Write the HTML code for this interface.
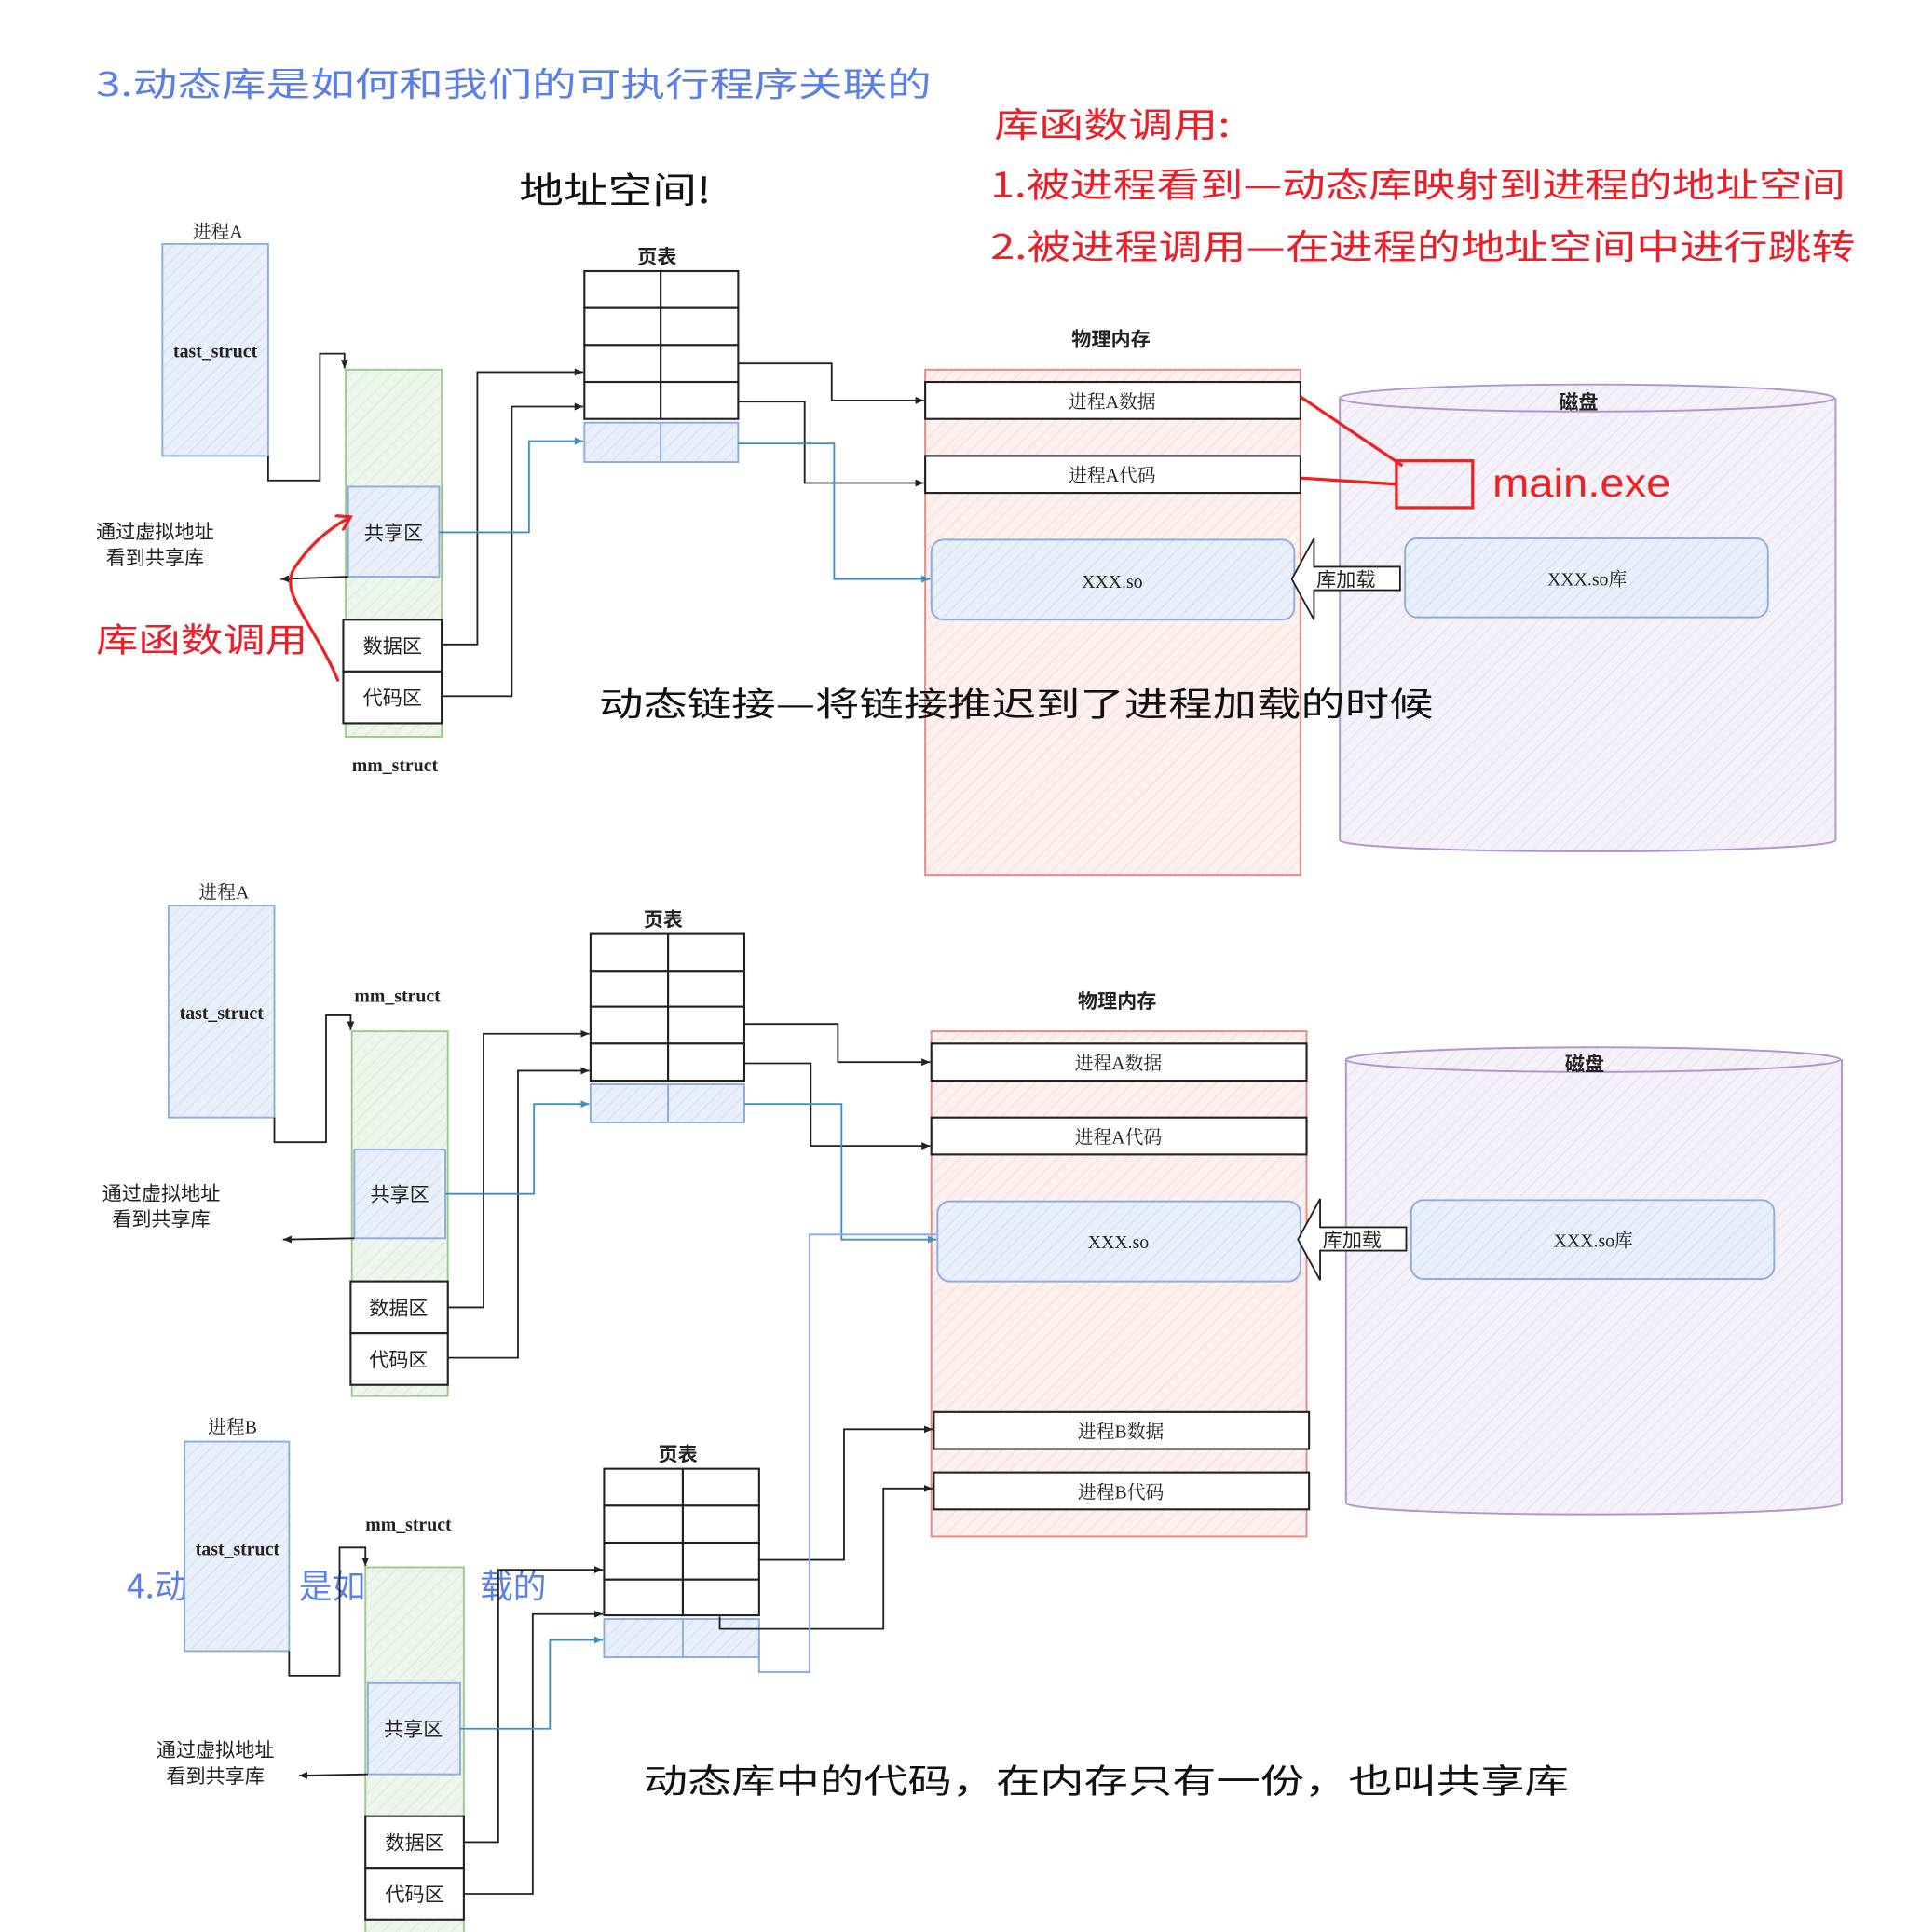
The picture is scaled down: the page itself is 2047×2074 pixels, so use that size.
<!DOCTYPE html>
<html><head><meta charset="utf-8"><style>
html,body{margin:0;padding:0;background:#fff;}
svg{display:block;}
text{font-family:"Liberation Sans","Noto Sans CJK SC",sans-serif;}
.lb{font-size:16px;fill:#222;text-anchor:middle;}
.sf{font-family:"Liberation Serif","Noto Serif CJK SC",serif;font-size:15px;fill:#222;text-anchor:middle;}
.bd{font-size:16px;font-weight:bold;fill:#222;text-anchor:middle;}
.hw{font-family:"Noto Sans CJK SC",sans-serif;}
.ln{fill:none;stroke:#222;stroke-width:1.4;}
.bl{fill:none;stroke:#3f8fc0;stroke-width:1.4;}
.cell{fill:#fff;stroke:#222;stroke-width:1.6;}
</style></head><body>
<svg width="2047" height="2074" viewBox="0 0 1550 1568" preserveAspectRatio="none" xmlns="http://www.w3.org/2000/svg">
<defs>
<pattern id="hb" width="8" height="8" patternUnits="userSpaceOnUse" patternTransform="rotate(45)"><rect width="8" height="8" fill="#e9f0fb"/><line x1="0" y1="0" x2="0" y2="8" stroke="#c9d8f0" stroke-width="1.2"/></pattern>
<pattern id="hg" width="8" height="8" patternUnits="userSpaceOnUse" patternTransform="rotate(45)"><rect width="8" height="8" fill="#eef5ec"/><line x1="0" y1="0" x2="0" y2="8" stroke="#d6e8d2" stroke-width="1.2"/></pattern>
<pattern id="hr" width="8" height="8" patternUnits="userSpaceOnUse" patternTransform="rotate(45)"><rect width="8" height="8" fill="#fdf0ef"/><line x1="0" y1="0" x2="0" y2="8" stroke="#f6d2cf" stroke-width="1.2"/></pattern>
<pattern id="hp" width="8" height="8" patternUnits="userSpaceOnUse" patternTransform="rotate(45)"><rect width="8" height="8" fill="#f5f1f9"/><line x1="0" y1="0" x2="0" y2="8" stroke="#e3dbee" stroke-width="1.2"/></pattern>
<marker id="ar" markerWidth="8" markerHeight="8" refX="7" refY="4" orient="auto" markerUnits="userSpaceOnUse"><path d="M0,1 L7,4 L0,7 z" fill="#222"/></marker>
<marker id="ab" markerWidth="8" markerHeight="8" refX="7" refY="4" orient="auto" markerUnits="userSpaceOnUse"><path d="M0,1 L7,4 L0,7 z" fill="#3f8fc0"/></marker>
<marker id="rr" markerWidth="14" markerHeight="14" refX="10" refY="7" orient="auto" markerUnits="userSpaceOnUse"><path d="M0,0 L11,7 L0,14" fill="none" stroke="#e22" stroke-width="2.5"/></marker>
</defs>

<text class="hw" x="78" y="78" font-size="27" fill="#5b7fe8" textLength="679" lengthAdjust="spacingAndGlyphs">3.动态库是如何和我们的可执行程序关联的</text>
<text class="hw" x="422" y="165" font-size="29" fill="#111" textLength="156" lengthAdjust="spacingAndGlyphs">地址空间!</text>
<text class="hw" x="808" y="111" font-size="28" fill="#e8202a" textLength="192" lengthAdjust="spacingAndGlyphs">库函数调用:</text>
<text class="hw" x="805" y="160" font-size="28" fill="#e8202a" textLength="695" lengthAdjust="spacingAndGlyphs">1.被进程看到—动态库映射到进程的地址空间</text>
<text class="hw" x="805" y="210" font-size="28" fill="#e8202a" textLength="703" lengthAdjust="spacingAndGlyphs">2.被进程调用—在进程的地址空间中进行跳转</text>
<text class="hw" x="78" y="529" font-size="27" fill="#e8202a" textLength="172" lengthAdjust="spacingAndGlyphs">库函数调用</text>
<text class="hw" x="523" y="1455" font-size="27" fill="#111" textLength="752" lengthAdjust="spacingAndGlyphs">动态库中的代码，在内存只有一份，也叫共享库</text>
<text class="hw" x="103" y="1297" font-size="27" fill="#5b7fe8">4.动</text>
<text class="hw" x="243" y="1297" font-size="27" fill="#5b7fe8">是如</text>
<text class="hw" x="390" y="1297" font-size="27" fill="#5b7fe8">载的</text>

<!-- SECTION 1 -->
<text class="sf" x="177" y="193">进程A</text>
<rect x="132" y="198" width="86" height="172" fill="url(#hb)" stroke="#8eaee0" stroke-width="1.5"/>
<text class="sf" x="175" y="290" font-weight="bold">tast_struct</text>
<polyline class="ln" points="218,370 218,390 260,390 260,287 280,287 280,299" marker-end="url(#ar)"/>
<rect x="281" y="300" width="78" height="298" fill="url(#hg)" stroke="#9ccc8e" stroke-width="1.5"/>
<rect x="283" y="395" width="74" height="73" fill="url(#hb)" stroke="#8eaee0" stroke-width="1.5"/>
<text class="lb" x="320" y="438">共享区</text>
<rect x="279" y="503" width="80" height="42" class="cell"/>
<text class="lb" x="319" y="530">数据区</text>
<rect x="279" y="545" width="80" height="42" class="cell"/>
<text class="lb" x="319" y="572">代码区</text>
<text class="sf" x="321" y="626" font-weight="bold">mm_struct</text>
<text class="lb" x="126" y="437">通过虚拟地址</text>
<text class="lb" x="126" y="458">看到共享库</text>
<line class="ln" x1="283" y1="468" x2="228" y2="470" marker-end="url(#ar)"/>
<path d="M275,553 C255,505 225,480 240,460 C250,445 265,430 284,420" fill="none" stroke="#e22" stroke-width="2.5" marker-end="url(#rr)"/>

<text class="bd" x="534" y="214">页表</text>
<g>
<rect x="475" y="220" width="62" height="30" class="cell"/><rect x="537" y="220" width="63" height="30" class="cell"/>
<rect x="475" y="250" width="62" height="30" class="cell"/><rect x="537" y="250" width="63" height="30" class="cell"/>
<rect x="475" y="280" width="62" height="30" class="cell"/><rect x="537" y="280" width="63" height="30" class="cell"/>
<rect x="475" y="310" width="62" height="30" class="cell"/><rect x="537" y="310" width="63" height="30" class="cell"/>
<rect x="475" y="343" width="62" height="32" fill="url(#hb)" stroke="#8eaee0" stroke-width="1.5"/><rect x="537" y="343" width="63" height="32" fill="url(#hb)" stroke="#8eaee0" stroke-width="1.5"/>
</g>
<polyline class="ln" points="359,523 388,523 388,302 474,302" marker-end="url(#ar)"/>
<polyline class="ln" points="359,565 416,565 416,330 474,330" marker-end="url(#ar)"/>
<polyline class="bl" points="357,432 430,432 430,358 474,358" marker-end="url(#ab)"/>

<text class="bd" x="903" y="281">物理内存</text>
<rect x="752" y="300" width="305" height="410" fill="url(#hr)" stroke="#e88a86" stroke-width="1.5"/>
<rect x="752" y="310" width="305" height="30" class="cell"/>
<text class="sf" x="904" y="331" font-size="16">进程A数据</text>
<rect x="752" y="370" width="305" height="30" class="cell"/>
<text class="sf" x="904" y="391" font-size="16">进程A代码</text>
<rect x="757" y="438" width="295" height="65" rx="10" fill="url(#hb)" stroke="#8eaee0" stroke-width="1.5"/>
<text class="sf" x="904" y="477">XXX.so</text>
<polyline class="ln" points="600,295 676,295 676,325 751,325" marker-end="url(#ar)"/>
<polyline class="ln" points="600,326 654,326 654,392 751,392" marker-end="url(#ar)"/>
<polyline class="bl" points="600,360 678,360 678,470 756,470" marker-end="url(#ab)"/>

<path d="M1089,323 L1089,682 A201,9 0 0 0 1492,682 L1492,323" fill="url(#hp)" stroke="#b494cc" stroke-width="1.5"/>
<ellipse cx="1290" cy="323" rx="201" ry="11" fill="url(#hp)" stroke="#b494cc" stroke-width="1.5"/>
<text class="bd" x="1283" y="332">磁盘</text>
<rect x="1142" y="437" width="295" height="64" rx="10" fill="url(#hb)" stroke="#8eaee0" stroke-width="1.5"/>
<text class="sf" x="1290" y="475">XXX.so库</text>
<path d="M1138,460 L1068,460 L1068,437 L1050,470 L1068,503 L1068,479 L1138,479 z" fill="#fff" stroke="#222" stroke-width="1.4"/>
<text class="lb" x="1094" y="476">库加载</text>
<rect x="1135" y="374" width="62" height="38" fill="none" stroke="#e22" stroke-width="2.5"/>
<text x="1213" y="403" font-size="32" fill="#e22" textLength="145" lengthAdjust="spacingAndGlyphs">main.exe</text>
<line x1="1057" y1="322" x2="1140" y2="378" stroke="#e22" stroke-width="2.5"/>
<line x1="1057" y1="388" x2="1135" y2="393" stroke="#e22" stroke-width="2.5"/>
<text class="hw" x="487" y="581" font-size="27" fill="#111" textLength="678" lengthAdjust="spacingAndGlyphs">动态链接—将链接推迟到了进程加载的时候</text>

<!-- SECTION 2 -->
<text class="sf" x="182" y="729">进程A</text>
<rect x="137" y="735" width="86" height="172" fill="url(#hb)" stroke="#8eaee0" stroke-width="1.5"/>
<text class="sf" x="180" y="827" font-weight="bold">tast_struct</text>
<polyline class="ln" points="223,907 223,927 265,927 265,824 285,824 285,836" marker-end="url(#ar)"/>
<text class="sf" x="323" y="813" font-weight="bold">mm_struct</text>
<rect x="286" y="837" width="78" height="296" fill="url(#hg)" stroke="#9ccc8e" stroke-width="1.5"/>
<rect x="288" y="933" width="74" height="72" fill="url(#hb)" stroke="#8eaee0" stroke-width="1.5"/>
<text class="lb" x="325" y="975">共享区</text>
<rect x="285" y="1040" width="79" height="42" class="cell"/>
<text class="lb" x="324" y="1067">数据区</text>
<rect x="285" y="1082" width="79" height="42" class="cell"/>
<text class="lb" x="324" y="1109">代码区</text>
<text class="lb" x="131" y="974">通过虚拟地址</text>
<text class="lb" x="131" y="995">看到共享库</text>
<line class="ln" x1="288" y1="1005" x2="230" y2="1006" marker-end="url(#ar)"/>

<text class="bd" x="539" y="752">页表</text>
<g>
<rect x="480" y="758" width="63" height="30" class="cell"/><rect x="543" y="758" width="62" height="30" class="cell"/>
<rect x="480" y="788" width="63" height="29" class="cell"/><rect x="543" y="788" width="62" height="29" class="cell"/>
<rect x="480" y="817" width="63" height="30" class="cell"/><rect x="543" y="817" width="62" height="30" class="cell"/>
<rect x="480" y="847" width="63" height="30" class="cell"/><rect x="543" y="847" width="62" height="30" class="cell"/>
<rect x="480" y="880" width="63" height="31" fill="url(#hb)" stroke="#8eaee0" stroke-width="1.5"/><rect x="543" y="880" width="62" height="31" fill="url(#hb)" stroke="#8eaee0" stroke-width="1.5"/>
</g>
<polyline class="ln" points="364,1061 393,1061 393,839 479,839" marker-end="url(#ar)"/>
<polyline class="ln" points="364,1102 421,1102 421,869 479,869" marker-end="url(#ar)"/>
<polyline class="bl" points="362,969 434,969 434,896 479,896" marker-end="url(#ab)"/>

<text class="bd" x="908" y="818">物理内存</text>
<rect x="757" y="837" width="305" height="410" fill="url(#hr)" stroke="#e88a86" stroke-width="1.5"/>
<rect x="757" y="847" width="305" height="30" class="cell"/>
<text class="sf" x="909" y="868" font-size="16">进程A数据</text>
<rect x="757" y="907" width="305" height="30" class="cell"/>
<text class="sf" x="909" y="928" font-size="16">进程A代码</text>
<rect x="762" y="975" width="295" height="65" rx="10" fill="url(#hb)" stroke="#8eaee0" stroke-width="1.5"/>
<text class="sf" x="909" y="1013">XXX.so</text>
<rect x="759" y="1146" width="305" height="30" class="cell"/>
<text class="sf" x="911" y="1167" font-size="16">进程B数据</text>
<rect x="759" y="1195" width="305" height="30" class="cell"/>
<text class="sf" x="911" y="1216" font-size="16">进程B代码</text>
<polyline class="ln" points="605,831 681,831 681,862 756,862" marker-end="url(#ar)"/>
<polyline class="ln" points="605,863 659,863 659,930 756,930" marker-end="url(#ar)"/>
<polyline class="bl" points="605,896 684,896 684,1006 761,1006" marker-end="url(#ab)"/>

<path d="M1094,860 L1094,1220 A201,9 0 0 0 1497,1220 L1497,860" fill="url(#hp)" stroke="#b494cc" stroke-width="1.5"/>
<ellipse cx="1295" cy="860" rx="201" ry="10" fill="url(#hp)" stroke="#b494cc" stroke-width="1.5"/>
<text class="bd" x="1288" y="869">磁盘</text>
<rect x="1147" y="974" width="295" height="64" rx="10" fill="url(#hb)" stroke="#8eaee0" stroke-width="1.5"/>
<text class="sf" x="1295" y="1012">XXX.so库</text>
<path d="M1143,996 L1073,996 L1073,973 L1055,1006 L1073,1039 L1073,1015 L1143,1015 z" fill="#fff" stroke="#222" stroke-width="1.4"/>
<text class="lb" x="1099" y="1012">库加载</text>

<!-- SECTION 3 -->
<text class="sf" x="189" y="1163">进程B</text>
<rect x="150" y="1170" width="85" height="170" fill="url(#hb)" stroke="#8eaee0" stroke-width="1.5"/>
<text class="sf" x="193" y="1262" font-weight="bold">tast_struct</text>
<polyline class="ln" points="235,1340 235,1360 276,1360 276,1256 297,1256 297,1271" marker-end="url(#ar)"/>
<text class="sf" x="332" y="1242" font-weight="bold">mm_struct</text>
<rect x="297" y="1272" width="80" height="300" fill="url(#hg)" stroke="#9ccc8e" stroke-width="1.5"/>
<rect x="299" y="1366" width="75" height="74" fill="url(#hb)" stroke="#8eaee0" stroke-width="1.5"/>
<text class="lb" x="336" y="1409">共享区</text>
<rect x="297" y="1474" width="80" height="42" class="cell"/>
<text class="lb" x="337" y="1501">数据区</text>
<rect x="297" y="1516" width="80" height="42" class="cell"/>
<text class="lb" x="337" y="1543">代码区</text>
<text class="lb" x="175" y="1426">通过虚拟地址</text>
<text class="lb" x="175" y="1447">看到共享库</text>
<line class="ln" x1="299" y1="1440" x2="243" y2="1441" marker-end="url(#ar)"/>

<text class="bd" x="551" y="1186">页表</text>
<g>
<rect x="491" y="1192" width="64" height="30" class="cell"/><rect x="555" y="1192" width="62" height="30" class="cell"/>
<rect x="491" y="1222" width="64" height="30" class="cell"/><rect x="555" y="1222" width="62" height="30" class="cell"/>
<rect x="491" y="1252" width="64" height="30" class="cell"/><rect x="555" y="1252" width="62" height="30" class="cell"/>
<rect x="491" y="1282" width="64" height="29" class="cell"/><rect x="555" y="1282" width="62" height="29" class="cell"/>
<rect x="491" y="1314" width="64" height="31" fill="url(#hb)" stroke="#8eaee0" stroke-width="1.5"/><rect x="555" y="1314" width="62" height="31" fill="url(#hb)" stroke="#8eaee0" stroke-width="1.5"/>
</g>
<polyline class="ln" points="377,1495 405,1495 405,1274 490,1274" marker-end="url(#ar)"/>
<polyline class="ln" points="377,1537 433,1537 433,1310 490,1310" marker-end="url(#ar)"/>
<polyline class="bl" points="374,1403 447,1403 447,1331 490,1331" marker-end="url(#ab)"/>
<polyline class="ln" points="617,1266 686,1266 686,1160 758,1160" marker-end="url(#ar)"/>
<polyline class="ln" points="585,1312 585,1322 718,1322 718,1208 758,1208" marker-end="url(#ar)"/>
<polyline fill="none" stroke="#8eaee0" stroke-width="1.6" points="617,1330 617,1357 658,1357 658,1002 761,1002"/>
</svg>
</body></html>
